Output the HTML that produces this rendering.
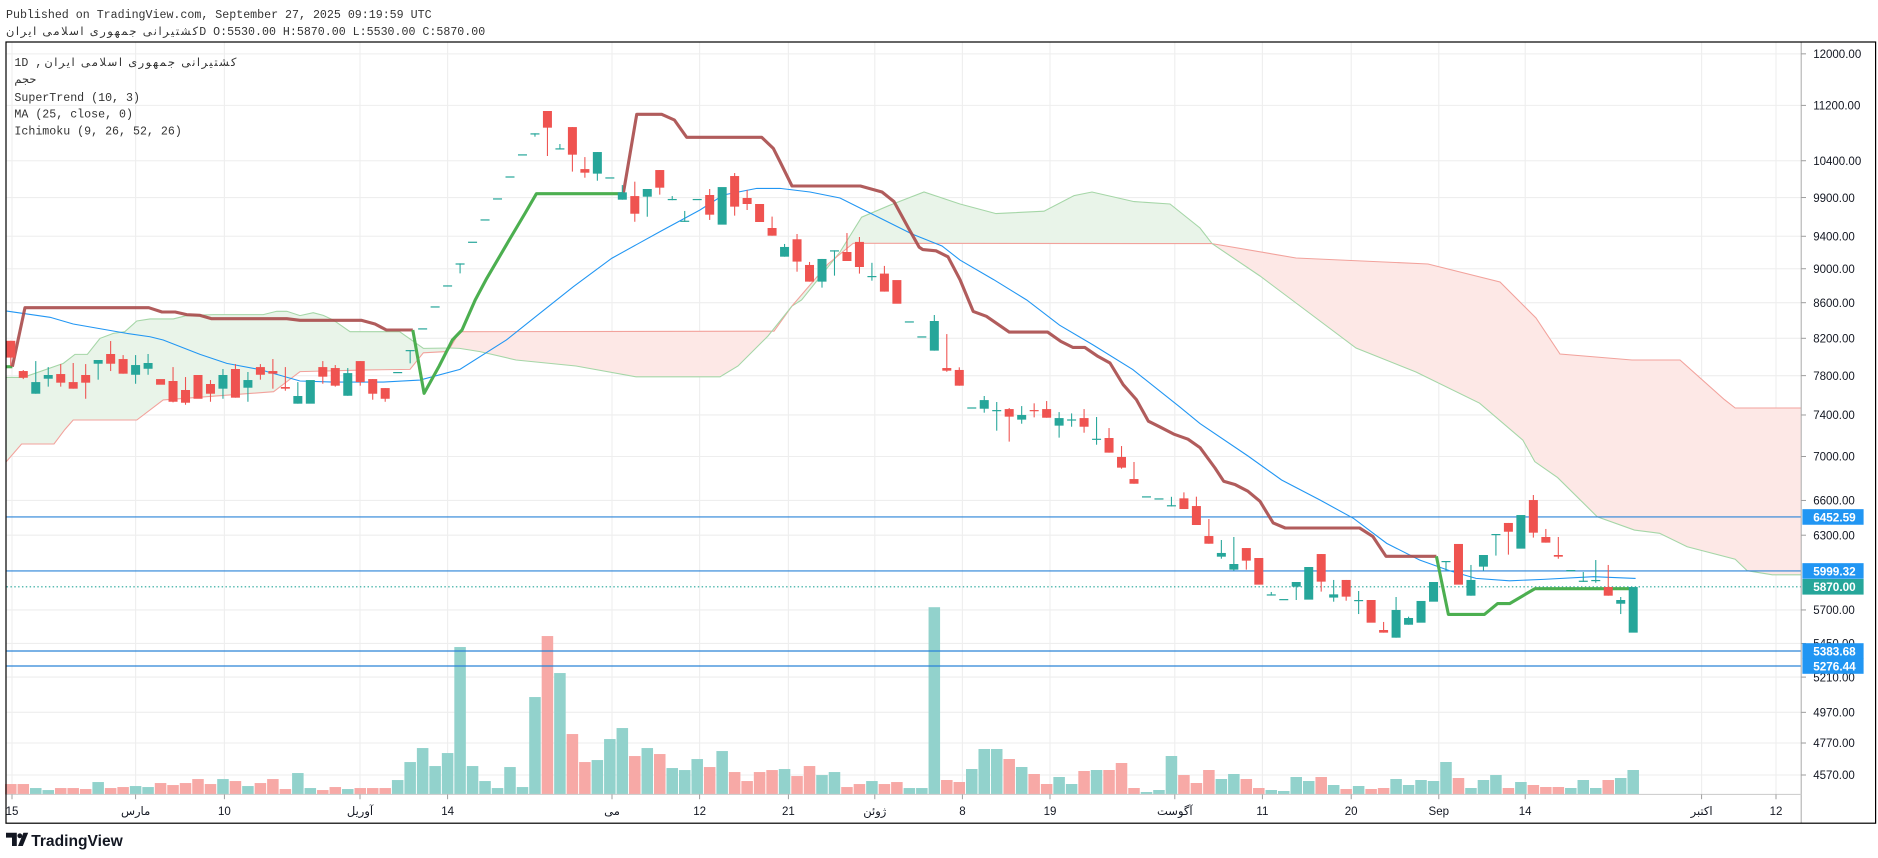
<!DOCTYPE html>
<html><head><meta charset="utf-8"><style>
html,body{margin:0;padding:0;background:#fff;overflow:hidden}
svg{display:block}
</style></head><body>
<svg id="s" xmlns="http://www.w3.org/2000/svg" width="1878" height="858" viewBox="0 0 1565 715">
<rect width="1565" height="715" fill="#fff"/>
<g id="grid"></g>
<g id="cloud"></g>
<g id="vol"></g>
<g id="hl"></g>
<g id="ind"></g>
<g id="cdl"></g>
<g id="axis"></g>
<g font-family="'Liberation Mono','Noto Sans CJK SC',monospace" font-size="9.7" fill="#333">
<text x="5" y="15">Published on TradingView.com, September 27, 2025 09:19:59 UTC</text>
<text x="5" y="29" font-family="'Liberation Sans','DejaVu Sans',sans-serif" font-size="9.5" textLength="160" lengthAdjust="spacing">کشتیرانی جمهوری اسلامی ایران</text>
<text x="166" y="29">D O:5530.00 H:5870.00 L:5530.00 C:5870.00</text>
<text x="12" y="55">1D ,</text>
<text x="37" y="55" font-family="'Liberation Sans','DejaVu Sans',sans-serif" font-size="9.5" textLength="160" lengthAdjust="spacing">کشتیرانی جمهوری اسلامی ایران</text>
<text x="12" y="69" font-family="'Liberation Sans','DejaVu Sans',sans-serif" font-size="9.5">حجم</text>
<text x="12" y="84">SuperTrend (10, 3)</text>
<text x="12" y="98">MA (25, close, 0)</text>
<text x="12" y="112">Ichimoku (9, 26, 52, 26)</text>
</g>
<g>
<path d="M5 694h9v11h-4v-7h-5z" fill="#131722"/>
<circle cx="16.5" cy="696.5" r="2" fill="#131722"/>
<path d="M15 705l4.5-11h4l-4.5 11z" fill="#131722"/>
<text x="26" y="705" font-family="'Liberation Sans',sans-serif" font-size="13" font-weight="bold" fill="#131722">TradingView</text>
</g>
</svg>
<script>
const NS="http://www.w3.org/2000/svg";
function el(p,t,a,txt){const e=document.createElementNS(NS,t);for(const k in a)e.setAttribute(k,a[k]);if(txt!==undefined)e.textContent=txt;document.getElementById(p).appendChild(e);return e;}
const X=i=>9+10.4*i;
const py=p=>(415+(8.9092-Math.log(p))*747)/1.2;
const L=5.5,R=1501,T=35,B=662;
const ticks=[12000,11200,10400,9900,9400,9000,8600,8200,7800,7400,7000,6600,6300,5700,5450,5210,4970,4770,4570];
ticks.forEach(p=>{const y=py(p);el('grid','line',{x1:L,x2:R,y1:y,y2:y,stroke:'#eeeeee','stroke-width':0.9});});
const dates=[[10,'15'],[113,'مارس'],[187,'10'],[300,'آوریل'],[373,'14'],[510,'می'],[583,'12'],[657,'21'],[729,'ژوئن'],[802,'8'],[875,'19'],[979,'آگوست'],[1052,'11'],[1126,'20'],[1199,'Sep'],[1271,'14'],[1418,'اکتبر'],[1480,'12']];
dates.forEach(d=>el('grid','line',{x1:d[0],x2:d[0],y1:T,y2:B,stroke:'#eeeeee','stroke-width':0.9}));
function poly(pts){return pts.map(p=>p.join(',')).join(' ');}
function cloud(top,bot,fill,tc,bc){
 el('cloud','polygon',{points:poly(top.concat(bot.slice().reverse())),fill:fill});
 el('cloud','polyline',{points:poly(top),fill:'none',stroke:tc,'stroke-width':0.9});
 el('cloud','polyline',{points:poly(bot),fill:'none',stroke:bc,'stroke-width':0.9});
}
const G='#e9f4e9',Gl='#a5d6a7',Rf='#fde8e6',Rl='#f2a29c';
cloud([[5,314.5],[19.4,314.5],[52.8,302.8],[62.5,295.3],[72.8,295.3],[83.3,282],[94.4,277.8],[104,276.4],[114,267.5],[125,265.8],[144.4,265.8],[155.6,263],[177.8,262.2],[219.4,262.2],[230.6,259.4],[239,259.4],[250,263],[261,260.6],[269.4,262.8],[277.8,266.7],[291.7,276.4],[333,276.4],[352.8,290.3],[375,290]],
 [[5,385],[18,370],[45,370],[54,358],[61,350],[114,350],[136,333.3],[228,326.4],[250,309.7],[305.6,308.3],[341.7,307.8],[352.8,294],[372,293],[375,290]],G,Gl,Rl);
cloud([[375,290],[383,276.4],[645,276],[660,255]],
 [[375,290],[383,290.3],[400,293],[430,300],[480,305],[530,314],[600,314],[615,305],[640,280],[660,255]],Rf,Rl,Gl);
cloud([[660,255],[668,250],[700,210],[718,181],[742,170.8],[770,160],[800,170],[830,178],[870,176],[895,163],[910,160],[945,168],[975,170],[1000,190],[1010,203]],
 [[660,255],[690,220],[711,202.7],[1010,203]],G,Gl,Rl);
cloud([[1010,203],[1080,215],[1190,220],[1250,235],[1280,265],[1300,295],[1360,300],[1400,300],[1437,333],[1446,340],[1501,340]],
 [[1010,203],[1050,230],[1090,260],[1130,290],[1180,310],[1233,336],[1269,366.7],[1279,384.7],[1298,398],[1331,430.6],[1362,441.7],[1383,444.4],[1406,455.6],[1446,466],[1456,475.6],[1477,479],[1501,479]],Rf,Rl,Gl);
const C=[
['r',284,298,284,305],['r',309.2,314.8,308.4,315.9],['g',318.4,328.1,300.9,328.1],['g',312.5,315.6,305.9,322.2],['r',311.7,318.9,303.4,322.2],
['r',318.4,323.9,302.5,323.9],['r',312.5,318.9,303.4,332.3],['g',300,303.1,300,316.4],['r',295,303.1,284.2,309.2],['r',299.2,311.4,295.9,311.4],
['g',304.2,312.3,295.9,319.8],['g',302.5,307.3,295,312.3],['r',315.9,320.6],['r',317.5,334.8,305.9,335.3],['r',325,335.6,314.2,337.3],
['r',312.5,332.3],['r',320,328.1,316.7,334.8],['g',312.5,323.9,307.5,332.3],['r',307.5,331.4,303.4,331.4],['g',316.7,323.1,310,334.8],
['r',305.9,312.3,303.4,316.4],['r',309.2,311.4,299.2,323.9],['r',322.5,323.9,305.9,325.6],['g',330,336.4,318.4,336.4],['g',316.7,336.4],
['r',305.9,313.9,300.9,319.8],['r',306.7,321.4,304.2,322.2],['g',310.9,329.8,306.7,329.8],['r',300.9,318.4,300.9,321.4],['r',315.9,328.1,315.9,333.1],
['r',323.4,332.3,323.4,334.8],['g',310],['g',291.7,null,291.7,302.8],['g',273.6],['g',255.3],
['g',237.8],['g',219.5,null,219.5,227.8],['g',201.4],['g',182.8],['g',165.3],
['g',147],['g',128.6],['g',111.1,null,111.1,113.9],['r',92.5,106.4,92.5,130],['g',123.6,null,120,123.6],
['r',105.9,128.9,105.9,143],['r',140.9,143.9,130.9,148.1],['g',126.7,144.7,126.7,150.6],['g',147.8],['g',160.3,166.4,154.2,166.4],
['r',163.4,178.1,151.4,184.8],['g',157.5,163.9,157.5,180.6],['r',141.7,156.4,141.7,162.2],['g',165.8,null,163.4,165.8],['g',183.9,null,175.8,183.9],
['g',165.8],['r',162.5,178.9,157.5,183.3],['g',155.9,187.2],['r',146.7,172.2,144.2,179.7],['r',165,170,158.3,175],
['r',170,185],['r',190,196.4,180.5,196.4],['g',205.8,213.9,203.3,213.9],['r',199.4,218,195,226.4],['r',220.8,234.7,218.3,234.7],
['g',215.8,234.7,215.8,239.7],['g',208.6,null,208.6,229.7],['r',210,217.5,194.2,217.5],['r',201.6,222.5,197.5,228],['g',230,null,219,233.9],
['r',228,243,221.6,243],['r',233.4,253.1],['g',267.8],['g',280.3],['g',267.5,292.2,262.5,292.2],
['r',306.7,308.9,278.4,309.8],['r',308.3,321.4,306.1,321.4],['g',339.5],['g',333.4,340.6,330,343.9],['g',341.7,null,335,358.9],
['r',340.9,347.2,340,368],['g',345.8,349.7,338.4,353.1],['r',341.7,null,336.1,347.8],['r',340.9,348.1,334.2,348.1],['g',348.4,354.7,343.4,364.7],
['g',349.5,null,344.5,355.6],['r',348.4,355.6,340.9,360.6],['g',365.6,null,347.5,370.6],['r',365,377.2,356.7,377.2],['r',380.8,389.7,371.7,390.6],
['r',399.2,403.1,385,403.1],['g',413.6],['g',415.3],['g',421,null,414,421],['r',415.3,424.2,410.3,424.2],
['r',421.7,437.5,413.9,437.5],['r',446.7,453.1,432.5,453.1],['g',460.8,463.9,450,465.6],['g',470,474.7,447.5,475.6],['r',456.7,467.2,456.7,474.7],
['r',465,487.2],['g',495.3,null,493.3,495.3],['g',499.2],['g',485,488.9,485,500],['g',472.5,499.7],
['r',461.7,484.7,461.7,493],['g',495.3,498,483.3,501.4],['r',483.3,497.2,483.3,500.6],['g',500,null,492.5,511.7],['r',500,518.9],
['r',525,527.2,518.3,527.2],['g',508.3,531.4,497.5,531.4],['g',515,520.6,513.9,520.6],['g',500.8,518.9],['g',485,501.4],
['g',467.5,null,467.5,475.6],['r',453.3,487.2],['g',483.3,496.4,470.8,496.4],['g',462.5,472.2,462.5,475.6],['g',445,null,445,463],
['r',435.8,443.1,435.8,462.2],['g',429.2,457.2],['r',416.7,443.9,412.5,448],['r',447.5,452.2,440.8,452.2],['r',462.5,463.9,447.5,465.6],
['g',475],['g',483.9,null,476.7,483.9],['g',483.3,null,466.7,485.6],['r',489.2,496.4,470.8,496.4],['g',500,503.1,497.5,511.7],
['g',489.2,527.2]];
const UP='#26a69a',DN='#ef5350';
C.forEach((c,i)=>{const x=X(i);const col=c[0]=='g'?UP:DN;let bt=c[1],bb=(c[2]==null)?bt+1:c[2];if(bb-bt<1)bb=bt+1;
 const wt=c[3]==null?bt:Math.min(c[3],bt),wb=c[4]==null?bb:Math.max(c[4],bb);
 if(wt<bt-0.2||wb>bb+0.2)el('cdl','line',{x1:x,x2:x,y1:wt,y2:wb,stroke:col,'stroke-width':0.9});
 el('cdl','rect',{x:x-3.75,y:bt,width:7.5,height:bb-bt,fill:col});});
const V1=[492,492,504,510,504,504,507,486,504,501,498,501,489,495,489,477,492,477,483,498,489,477,507,459,504,510,501,507,504,504,504,480,426,384,438,399,81,438,483,504,441,501,231,48,159,342,426,420,357,324,408,384,402,444,450,417,441,393,456,483,456,450,447,468,438,465,456,501,492,483,492,486,504,504];
const V2=[180,186,147,87,87,117,141,162,192,171,192,153,150,150,129,204,216,210,108,165,189,150,177,162,177,204,210,213,171,183,171,195,207,198,207,204,177,195,180,183,126,174,204,180,165,204,186,195,201,201,204,180,204,180,174,150];
C.forEach((c,i)=>{let top;if(i<74)top=516.7+V1[i]/3.6;else if(i==74)top=506;else top=600+V2[i-75]/3.6;
 el('vol','rect',{x:X(i)-4.8,y:top,width:9.6,height:B-top,fill:c[0]=='g'?'#92d2cc':'#f7a9a6'});});
[[430.8,'6452.59'],[475.8,'5999.32'],[542.5,'5383.68'],[555,'5276.44']].forEach(h=>el('hl','line',{x1:L,x2:R,y1:h[0],y2:h[0],stroke:'#2a83d8','stroke-width':0.95}));
el('hl','line',{x1:L,x2:R,y1:489,y2:489,stroke:'#26a69a','stroke-width':0.9,'stroke-dasharray':'1.2 2'});
const ma=[[5.6,259.2],[41.7,264.4],[61,270],[105.6,277.8],[125,280.6],[136,283.3],[166.7,295.3],[189,302.8],[216.7,308],[250,317.5],[277.8,318.4],[319.4,318.4],[350,316.7],[383.3,307.8],[422,283.3],[450,261],[477.8,238.9],[509.7,215.3],[550,193],[583.3,175],[602.8,162.5],[630.6,157],[650,157],[675,160],[700,165],[730,180],[760,195],[785,205],[800,216.7],[828,233],[855.6,250],[883,271],[911,287.5],[944,308],[983,339],[1000,353],[1040,380],[1068,400],[1100,416.7],[1128,432],[1155.6,452.8],[1183,466.7],[1208,475.6],[1230,482],[1258,484],[1286,482.8],[1328,480.6],[1363,482]];
el('ind','polyline',{points:poly(ma),fill:'none',stroke:'#2196f3','stroke-width':0.9});
const st='#a84a4a',sg='#4caf50';
el('ind','polyline',{points:poly([[5,305.6],[10.3,305.6]]),fill:'none',stroke:sg,'stroke-width':2.6});
el('ind','polyline',{points:poly([[10.3,305.6],[20.8,256.4],[124,256.4],[135,260],[146,260],[155.6,262.2],[166.7,262.8],[176.4,265.6],[239,265.6],[250,266.9],[301,266.9],[312.5,270],[322,275],[344,275]]),fill:'none',stroke:st,'stroke-width':2.6,'stroke-opacity':0.9,'stroke-linejoin':'round'});
el('ind','polyline',{points:poly([[344,275],[353.4,327.8],[366,305],[377,283.3],[385,275],[396,250],[405.6,232],[426,197.2],[437.5,177.8],[447,161.4],[519.4,161.4]]),fill:'none',stroke:sg,'stroke-width':2.6,'stroke-linejoin':'round'});
el('ind','polyline',{points:poly([[519.4,161.4],[530.6,95.3],[551.4,95.3],[562,100],[572.2,114.4],[634.7,114.4],[644.4,123.6],[650,134.7],[660,155],[717,155],[735,160],[745,168],[757,190],[766,206],[769,208],[780,209],[790,214],[800,233],[811,259.5],[822,263.6],[841,276.7],[873,276.7],[884,284.5],[894,289.5],[904,289.5],[915,297],[925,302.5],[936,320.6],[947,333],[957,351],[967,356],[978,361.7],[990,366],[1000,373],[1012.5,390],[1019.7,401],[1029.4,403.9],[1040,409.4],[1050,417.8],[1061,435.8],[1071,440],[1133,440],[1144,447],[1155,463.6],[1197,463.6]]),fill:'none',stroke:st,'stroke-width':2.6,'stroke-opacity':0.9,'stroke-linejoin':'round'});
el('ind','polyline',{points:poly([[1197,463.6],[1207,512],[1237,512],[1248,503],[1258,503],[1279,490.6],[1359.7,490.6]]),fill:'none',stroke:sg,'stroke-width':2.6,'stroke-linejoin':'round'});
el('axis','rect',{x:R,y:T,width:62,height:651,fill:'#fff'});
el('axis','line',{x1:R,x2:R,y1:T,y2:686,stroke:'#b0b0b0','stroke-width':0.9});
el('axis','line',{x1:L,x2:R,y1:B,y2:B,stroke:'#d0d0d0','stroke-width':0.9});
ticks.forEach(p=>{const y=py(p);el('axis','line',{x1:R,x2:R+4,y1:y,y2:y,stroke:'#999','stroke-width':0.8});
 el('axis','text',{x:R+10,y:y+3.5,'font-family':"'Liberation Sans',sans-serif",'font-size':9.6,fill:'#131722'},p.toFixed(2));});
dates.forEach(d=>{el('axis','line',{x1:d[0],x2:d[0],y1:B,y2:B+4,stroke:'#999','stroke-width':0.8});
 el('axis','text',{x:d[0],y:679,'text-anchor':'middle','font-family':"'Liberation Sans','DejaVu Sans',sans-serif",'font-size':9.6,fill:'#131722'},d[1]);});
[[430.8,'6452.59','#2196f3'],[475.8,'5999.32','#2196f3'],[489,'5870.00','#26a69a'],[542.5,'5383.68','#2196f3'],[555,'5276.44','#2196f3']].forEach(b=>{
 el('axis','rect',{x:R+1,y:b[0]-6.5,width:51,height:13,fill:b[2]});
 el('axis','text',{x:R+10,y:b[0]+3.6,'font-family':"'Liberation Sans',sans-serif",'font-size':9.8,'font-weight':'bold',fill:'#fff'},b[1]);});
el('axis','rect',{x:5,y:T,width:1558,height:651,fill:'none',stroke:'#000','stroke-width':1});
</script>
</body></html>
